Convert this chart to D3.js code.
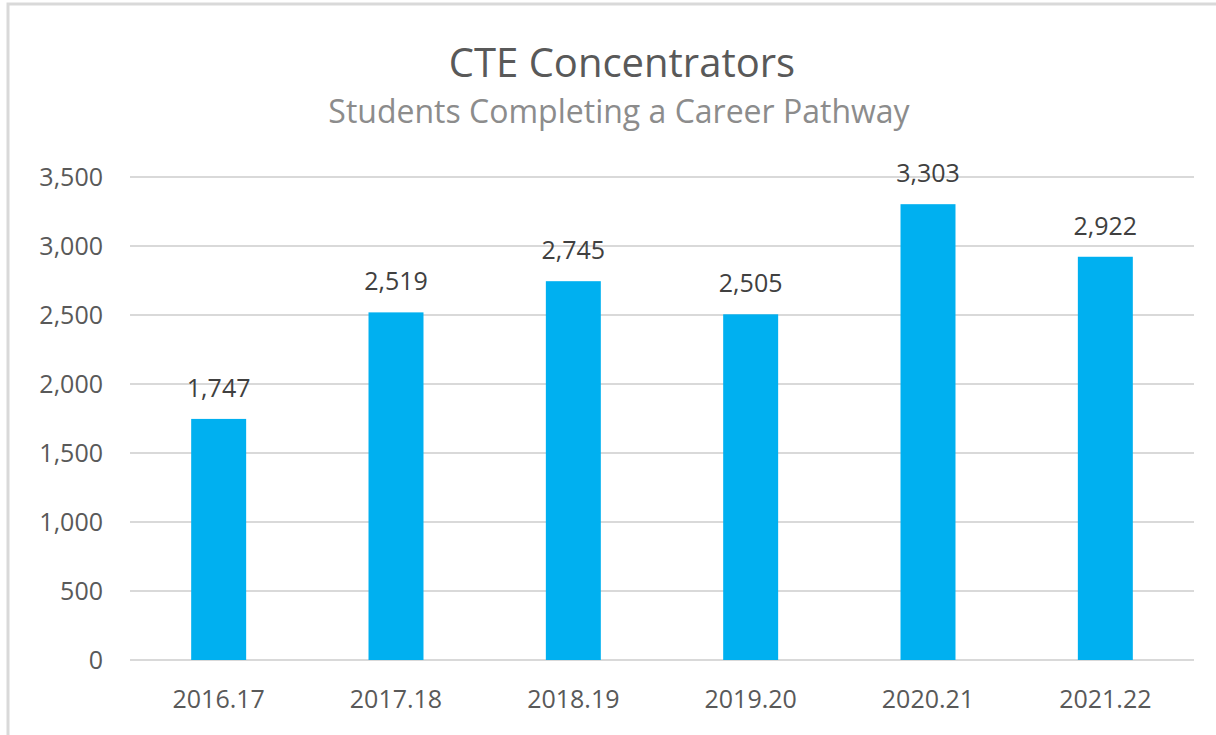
<!DOCTYPE html>
<html>
	<head>
		<meta charset="utf-8">
		<title>CTE Concentrators</title>
		<script src="https://d3js.org/d3.v7.min.js"></script>
		<style>
			body { margin: 0; background: #fff; }
			text { font-family: "Open Sans", "Noto Sans", sans-serif; }
		</style>
	</head>
	<body>
		<script>
			var years = ["2016.17", "2017.18", "2018.19", "2019.20", "2020.21", "2021.22"];
			var concentrators = [1747, 2519, 2745, 2505, 3303, 2922];
			var yTicks = [0, 500, 1000, 1500, 2000, 2500, 3000, 3500];

			var w = 1216;
			var h = 735;
			var plotLeft = 130, plotRight = 1194, plotTop = 177, plotBottom = 660;

			var svg = d3.select("body")
						.append("svg")
						.attr("width", w)
						.attr("height", h);

			// chart frame
			svg.append("path")
				.attr("d", "M8,735 V4 H1216")
				.attr("fill", "none")
				.attr("stroke", "#d9d9d9")
				.attr("stroke-width", 3);

			var xScale = d3.scaleBand()
				.domain(years)
				.range([plotLeft, plotRight])
				.paddingInner(0.69)
				.paddingOuter(0.345);

			var yScale = d3.scaleLinear()
				.domain([0, 3500])
				.range([plotBottom, plotTop]);

			var fmt = d3.format(",");

			// gridlines
			svg.selectAll("line.grid")
				.data(yTicks)
				.enter()
				.append("line")
				.attr("class", "grid")
				.attr("x1", plotLeft)
				.attr("x2", plotRight)
				.attr("y1", function(d) { return yScale(d); })
				.attr("y2", function(d) { return yScale(d); })
				.attr("stroke", "#d9d9d9")
				.attr("stroke-width", 2);

			var yAxis = d3.axisLeft(yScale)
				.tickValues(yTicks)
				.tickFormat(fmt)
				.tickSize(0)
				.tickPadding(27);

			var yG = svg.append("g")
				.attr("transform", "translate(" + plotLeft + ",0)")
				.call(yAxis);
			yG.select(".domain").remove();
			yG.selectAll("text")
				.attr("font-size", 25)
				.attr("fill", "#595959")
				.style("font-family", "'Open Sans', 'Noto Sans', sans-serif");

			var xAxis = d3.axisBottom(xScale)
				.tickSize(0)
				.tickPadding(30);

			var xG = svg.append("g")
				.attr("transform", "translate(0," + plotBottom + ")")
				.call(xAxis);
			xG.select(".domain").remove();
			xG.selectAll("text")
				.attr("font-size", 25)
				.attr("fill", "#595959")
				.style("font-family", "'Open Sans', 'Noto Sans', sans-serif");

			svg.selectAll("rect.bar")
				.data(concentrators)
				.enter()
				.append("rect")
				.attr("class", "bar")
				.attr("x", function(d, i) { return xScale(years[i]); })
				.attr("y", function(d) { return yScale(d); })
				.attr("width", xScale.bandwidth())
				.attr("height", function(d) { return plotBottom - yScale(d); })
				.attr("fill", "#00b0f0");

			svg.selectAll("text.lbl")
				.data(concentrators)
				.enter()
				.append("text")
				.attr("class", "lbl")
				.attr("x", function(d, i) { return xScale(years[i]) + xScale.bandwidth() / 2; })
				.attr("y", function(d) { return yScale(d) - 22; })
				.attr("text-anchor", "middle")
				.attr("font-size", 25)
				.attr("fill", "#404040")
				.text(function(d) { return fmt(d); });

			svg.append("text")
				.attr("x", 622)
				.attr("y", 77)
				.attr("text-anchor", "middle")
				.attr("font-size", 40)
				.attr("fill", "#595959")
				.text("CTE Concentrators");

			svg.append("text")
				.attr("x", 619)
				.attr("y", 123)
				.attr("text-anchor", "middle")
				.attr("font-size", 32)
				.attr("fill", "#8c8c8c")
				.text("Students Completing a Career Pathway");
		</script>
	</body>
</html>
